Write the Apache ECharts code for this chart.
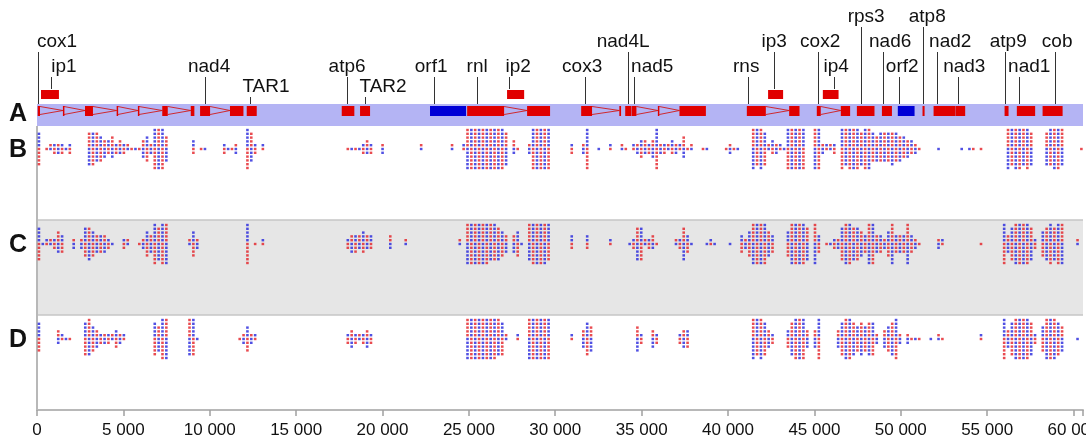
<!DOCTYPE html>
<html>
<head>
<meta charset="utf-8">
<script src="https://cdn.jsdelivr.net/npm/echarts@6/dist/echarts.min.js"></script>
<style>
html,body{margin:0;padding:0;background:#fff}
#chart{width:1086px;height:442px}
</style>
</head>
<body>
<div id="chart"></div>
<script>
// mitochondrial genome map + read dot tracks
var genomeLen = 60550;
var binBp = 223.5;

// name, start, end, kind (ex = gene in track A, orf = free orf, ip = intronic orf)
var genes = [
  ['cox1', 40, 175, 'ex'], ['cox1', 1500, 1560, 'ex'], ['cox1', 2780, 3240, 'ex'],
  ['cox1', 4610, 4680, 'ex'], ['cox1', 5840, 5900, 'ex'], ['cox1', 7250, 7570, 'ex'],
  ['cox1', 8900, 9110, 'ex'], ['ip1', 230, 1270, 'ip'],
  ['nad4', 9440, 10020, 'ex'], ['nad4', 11170, 11950, 'ex'],
  ['TAR1', 12140, 12720, 'ex'], ['atp6', 17640, 18370, 'ex'], ['TAR2', 18700, 19280, 'ex'],
  ['orf1', 22750, 24840, 'orf'],
  ['rnl', 24900, 27040, 'ex'], ['rnl', 28370, 29700, 'ex'], ['ip2', 27210, 28200, 'ip'],
  ['cox3', 31500, 32130, 'ex'], ['cox3', 33710, 33810, 'ex'],
  ['nad4L', 34050, 34400, 'ex'], ['nad5', 34420, 34700, 'ex'], ['nad5', 35940, 36020, 'ex'],
  ['nad5', 37190, 38720, 'ex'],
  ['rns', 41090, 42190, 'ex'], ['rns', 43540, 44140, 'ex'], ['ip3', 42320, 43190, 'ip'],
  ['cox2', 45140, 45370, 'ex'], ['cox2', 46530, 47070, 'ex'], ['ip4', 45490, 46400, 'ip'],
  ['rps3', 47460, 48480, 'ex'], ['nad6', 48910, 49490, 'ex'], ['orf2', 49830, 50800, 'orf'],
  ['atp8', 51260, 51380, 'ex'], ['nad2', 51900, 53140, 'ex'], ['nad3', 53160, 53730, 'ex'],
  ['atp9', 56010, 56240, 'ex'], ['nad1', 56720, 57780, 'ex'], ['cob', 58210, 59370, 'ex']
];

// intron spans: from end of one exon to start of the next
var introns = [
  [175, 1500], [1560, 2780], [3240, 4610], [4680, 5840], [5900, 7250], [7570, 8900],
  [10020, 11170], [27040, 28370], [32130, 33710], [34700, 35940], [36020, 37190],
  [42190, 43540], [45370, 46530]
];

// label name, position of leader line (bp), text row (0 = top)
var labels = [
  ['cox1', 60, 1], ['ip1', 810, 2], ['nad4', 9730, 2], ['TAR1', 12330, 3],
  ['atp6', 17950, 2], ['TAR2', 18990, 3], ['orf1', 22990, 2], ['rnl', 25480, 2],
  ['ip2', 27330, 2], ['cox3', 31730, 2], ['nad4L', 34220, 1], ['nad5', 34570, 2],
  ['rns', 41170, 2], ['ip3', 42670, 1], ['cox2', 45220, 1], ['ip4', 46150, 2],
  ['rps3', 47710, 0], ['nad6', 48980, 1], ['orf2', 49910, 2], ['atp8', 51300, 0],
  ['nad2', 52110, 1], ['nad3', 53330, 2], ['atp9', 56050, 1], ['nad1', 56860, 2],
  ['cob', 58940, 1]
];
// text offset from leader line, px
var labelShift = {cox1: 19, ip1: 13, nad4: 4, TAR1: 16, TAR2: 18, orf1: -3, ip2: 9, cox3: -3,
  nad4L: -5, nad5: 18, rns: -2, cox2: 2, ip4: 2, rps3: 5, atp8: 4, nad6: 7, orf2: 3,
  nad2: 13, nad3: 6, atp9: 3, nad1: 10, cob: 2};

// dot counts per bin: [first bin, count, count, ...]
var trackB = [
  [0, 9], [2, 1, 2, 3, 3, 3, 1, 3],
  [13, 9, 9, 8, 7, 5, 4, 6, 3, 4, 3, 2, 1, 1, 1], [27, 5, 7, 3, 11, 11, 11, 7],
  [40, 4, 0, 1, 1], [48, 3, 1, 1, 3], [54, 11, 8, 3, 0, 2],
  [80, 1, 1, 1, 1, 3, 4, 3], [89, 3], [99, 2], [107, 2],
  [110, 2, 11, 11, 11, 11, 11, 11, 11, 11, 11, 11, 9], [123, 4, 1],
  [127, 3, 11, 11, 11, 11, 11], [138, 3], [141, 3, 11], [145, 1], [148, 2], [151, 2, 1],
  [154, 2, 3, 5, 4, 3, 5, 11, 3, 3, 2, 4, 3, 2, 6, 1, 2], [172, 1, 1],
  [178, 1, 3, 1, 1], [185, 11, 10, 11, 9, 2, 4, 3, 2, 1, 11, 11, 11, 11, 11],
  [201, 11, 11, 3, 2, 2, 3],
  [208, 11, 10, 11, 11, 11, 9, 11, 11, 8, 7, 8, 8, 8, 9, 8, 7, 6, 5, 4, 3, 1],
  [233, 1], [239, 1, 0, 1, 1, 0, 1],
  [251, 11, 10, 11, 11, 10, 11, 9], [261, 9, 10, 11, 11, 10], [270, 1]
];
var trackC = [
  [0, 9, 1, 2, 2, 3, 6, 5], [9, 3], [11, 3, 8, 9, 7, 5, 5, 5, 3, 1], [22, 3, 2],
  [26, 1, 3, 7, 5, 11, 9, 11, 11], [39, 2, 7, 3], [54, 11, 0, 1, 0, 2],
  [80, 3, 5, 5, 4, 6, 4, 4], [91, 4], [95, 2], [109, 2],
  [111, 11, 11, 11, 11, 11, 11, 10, 10, 9, 7, 5], [123, 5, 7, 1],
  [127, 10, 11, 11, 11, 11, 10], [138, 4], [142, 4], [148, 2],
  [153, 1, 3, 9, 9, 2, 3, 4, 1], [165, 2, 3, 9, 5, 1], [173, 1, 2, 1], [179, 1],
  [182, 5, 3, 7, 11, 11, 11, 11, 7, 5], [194, 7, 11, 11, 11, 11, 9], [201, 11, 5],
  [204, 1, 1, 3, 3, 9, 11, 11, 9, 9, 7, 5, 11, 11, 5, 5, 3, 7, 11, 5, 5, 5, 11, 5, 3, 1],
  [233, 3, 2], [244, 1], [250, 11, 5, 9, 11, 11, 11, 11, 9, 3],
  [260, 7, 9, 11, 9, 11, 11], [269, 2]
];
var trackD = [
  [0, 8], [5, 4, 2, 1, 1], [12, 9, 10, 7, 5, 3, 3, 3, 2, 5, 3, 2],
  [30, 9, 7, 11, 11], [39, 10, 10, 1], [52, 1, 3, 7, 3, 2],
  [80, 3, 5, 3, 2, 3, 5, 3], [111, 11, 11, 11, 11, 11, 11, 11, 11, 10, 9, 2], [124, 2],
  [127, 11, 11, 11, 11, 11, 11], [138, 2], [141, 5, 9, 7], [155, 7, 3], [159, 5, 3],
  [166, 3, 5, 5], [185, 11, 10, 11, 9, 5, 3], [194, 5, 9, 11, 11, 11, 5], [201, 5, 11],
  [207, 5, 9, 11, 11, 9, 7, 9, 7, 9, 9, 3], [219, 5, 7, 9, 11, 3], [225, 3, 1, 1, 1],
  [231, 1, 0, 2, 1], [244, 2], [250, 11, 5, 9, 11, 11, 11, 11, 9, 3],
  [260, 7, 11, 11, 11, 9, 7], [269, 1]
];
var trackNames = ['A', 'B', 'C', 'D'];

var FONT = '"Liberation Sans", Arial, sans-serif';
var RED = '#e00000', BLUE = '#0000d6';
var DOT_RED = '#e41e24', DOT_BLUE = '#2424dc';
var rowPx = 3.8;
var textRowY = [17, 42, 67, 87];
var trackCenter = {B: 149, C: 244, D: 339};
var trackMid = {A: 114, B: 150, C: 245, D: 340};

function rowOffset(i) {
  if (i === 0) return 0;
  return i % 2 === 1 ? -Math.ceil(i / 2) : i / 2;
}
var redDots = [], blueDots = [];
function addDots(runs, center) {
  runs.forEach(function (run) {
    for (var k = 1; k < run.length; k++) {
      var bin = run[0] + k - 1;
      for (var i = 0; i < run[k]; i++) {
        var pt = [(bin + 0.5) * binBp, center + rowOffset(i) * rowPx];
        if ((bin + i) % 2 === 0) redDots.push(pt); else blueDots.push(pt);
      }
    }
  });
}
addDots(trackB, trackCenter.B);
addDots(trackC, trackCenter.C);
addDots(trackD, trackCenter.D);

function geneKind(name) {
  for (var i = 0; i < genes.length; i++) if (genes[i][0] === name) return genes[i][3];
  return 'ex';
}

var myChart = echarts.init(document.getElementById('chart'));
var option = {
  animation: false,
  grid: {left: 37, right: 3, top: 0, bottom: 32, containLabel: false, outerBoundsMode: 'none'},
  xAxis: {
    type: 'value', min: 0, max: genomeLen, interval: 5000, position: 'bottom',
    axisLine: {show: true, onZero: false, lineStyle: {color: '#b8b8b8', width: 2}},
    axisTick: {show: true, length: 6, lineStyle: {color: '#a0a0a0', width: 1.5}},
    axisLabel: {
      color: '#111', fontSize: 17, fontFamily: FONT, margin: 12,
      formatter: function (v) {
        if (v % 5000 !== 0) return '';
        return String(v).replace(/\B(?=(\d{3})+(?!\d))/g, ' ');
      }
    },
    splitLine: {show: false}
  },
  yAxis: {type: 'value', min: 0, max: 410, inverse: true, show: false},
  series: [
    {
      // background bands and frame
      type: 'line', data: [], z: 1, silent: true,
      markArea: {
        silent: true,
        data: [
          [{coord: [0, 104], itemStyle: {color: '#b4b4f4'}}, {coord: [genomeLen, 126]}],
          [{coord: [0, 220], itemStyle: {color: '#e6e6e6'}}, {coord: [genomeLen, 315]}]
        ]
      },
      markLine: {
        silent: true, symbol: 'none', label: {show: false},
        lineStyle: {color: '#c6c6c6', width: 1.5, type: 'solid'},
        data: [
          [{coord: [0, 220]}, {coord: [genomeLen, 220]}],
          [{coord: [0, 315]}, {coord: [genomeLen, 315]}],
          [{coord: [0, 126], lineStyle: {color: '#b8b8b8', width: 2}}, {coord: [0, 410]}],
          [{coord: [genomeLen, 126]}, {coord: [genomeLen, 416]}]
        ]
      }
    },
    {
      // intron connectors
      type: 'custom', z: 3, silent: true,
      data: introns,
      renderItem: function (params, api) {
        var a = api.coord([api.value(0), 106.5]);
        var b = api.coord([api.value(0), 114.5]);
        var c = api.coord([api.value(1), 110.5]);
        var st = {stroke: '#d01818', lineWidth: 0.9};
        return {type: 'group', children: [
          {type: 'line', shape: {x1: a[0], y1: a[1], x2: c[0], y2: c[1]}, style: st},
          {type: 'line', shape: {x1: b[0], y1: b[1], x2: c[0], y2: c[1]}, style: st}
        ]};
      }
    },
    {
      // gene boxes
      type: 'custom', z: 4, silent: true,
      data: genes.map(function (g) { return [g[1], g[2]]; }),
      renderItem: function (params, api) {
        var kind = genes[params.dataIndex][3];
        var y0 = kind === 'ip' ? 90 : 106, y1 = kind === 'ip' ? 99 : 116;
        var p0 = api.coord([api.value(0), y0]);
        var p1 = api.coord([api.value(1), y1]);
        return {
          type: 'rect',
          shape: {x: p0[0], y: p0[1], width: Math.max(p1[0] - p0[0], 1.5), height: p1[1] - p0[1]},
          style: {fill: kind === 'orf' ? BLUE : RED}
        };
      }
    },
    {
      // labels with leader lines
      type: 'custom', z: 5, silent: true,
      data: labels.map(function (l) { return [l[1], l[2]]; }),
      renderItem: function (params, api) {
        var name = labels[params.dataIndex][0];
        var ty = textRowY[api.value(1)];
        var target = geneKind(name) === 'ip' ? 89 : 104;
        var top = api.coord([api.value(0), ty + 10]);
        var bot = api.coord([api.value(0), target]);
        var lx = Math.round(top[0]) + 0.5;
        return {type: 'group', children: [
          {type: 'line', shape: {x1: lx, y1: top[1], x2: lx, y2: bot[1]},
            style: {stroke: '#333', lineWidth: 1}},
          {type: 'text', x: top[0] + (labelShift[name] || 0), y: api.coord([0, ty])[1],
            style: {text: name, fill: '#111', fontSize: 19, fontFamily: FONT,
              align: 'center', verticalAlign: 'middle'}}
        ]};
      }
    },
    {
      // track letters
      type: 'custom', z: 5, silent: true,
      coordinateSystem: 'none',
      data: trackNames,
      renderItem: function (params, api) {
        var name = trackNames[params.dataIndex];
        return {type: 'text', x: 18, y: trackMid[name],
          style: {text: name, fill: '#111', fontSize: 25, fontWeight: 'bold', fontFamily: FONT,
            align: 'center', verticalAlign: 'middle'}};
      }
    },
    {
      type: 'scatter', z: 6, silent: true, symbol: 'rect', symbolSize: [2.6, 2.4],
      itemStyle: {color: DOT_RED}, data: redDots
    },
    {
      type: 'scatter', z: 6, silent: true, symbol: 'rect', symbolSize: [2.6, 2.4],
      itemStyle: {color: DOT_BLUE}, data: blueDots
    }
  ]
};
myChart.setOption(option);
</script>
</body>
</html>
